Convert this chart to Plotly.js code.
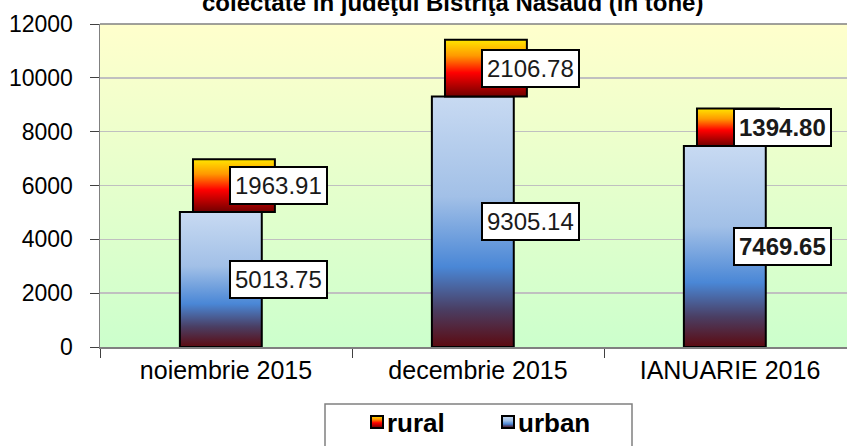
<!DOCTYPE html>
<html>
<head>
<meta charset="utf-8">
<script src="https://cdn.plot.ly/plotly-3.0.1.min.js"></script>
<style>
  html, body { margin: 0; padding: 0; background: #ffffff; }
  #chart { width: 847px; height: 446px; }
</style>
</head>
<body>
<div id="chart"></div>
<script>
const categories = ['noiembrie 2015', 'decembrie 2015', 'IANUARIE 2016'];
const urbanValues = [5013.75, 9305.14, 7469.65];
const ruralValues = [1963.91, 2106.78, 1394.80];
const urbanLabels = ['5013.75', '9305.14', '7469.65'];
const ruralLabels = ['1963.91', '2106.78', '1394.80'];
const boldLabels = [false, false, true];
const titleText = 'colectate în judeţul Bistriţa Năsăud (în tone)';

const fontFamily = 'Arial, "Liberation Sans", sans-serif';

// plot area in pixels (left 100, top 24, bottom 347, right runs off the picture)
const plotLeft = 100;
const plotWidth = 747;
const plotTop = 24;
const plotHeight = 323;

function paperX(px) {
    return (px - plotLeft) / plotWidth;
}

function paperY(py) {
    return (plotTop + plotHeight - py) / plotHeight;
}

const urbanTrace = {
    x: categories,
    y: urbanValues,
    name: 'urban',
    type: 'bar',
    width: 0.325,
    offset: -0.183,
    marker: {
        color: '#9DBDE6',
        line: {color: '#000000', width: 2}
    }
};

const ruralTrace = {
    x: categories,
    y: ruralValues,
    base: urbanValues,
    name: 'rural',
    type: 'bar',
    width: 0.325,
    offset: -0.131,
    marker: {
        color: '#FF3300',
        line: {color: '#000000', width: 2}
    }
};

const annotations = [];
for (let i = 0; i < categories.length; i++) {
    const urbanText = boldLabels[i] ? '<b>' + urbanLabels[i] + '</b>' : urbanLabels[i];
    const ruralText = boldLabels[i] ? '<b>' + ruralLabels[i] + '</b>' : ruralLabels[i];
    annotations.push({
        x: categories[i],
        y: urbanValues[i] / 2,
        xref: 'x', yref: 'y',
        text: urbanText,
        showarrow: false,
        xshift: 52,
        bgcolor: '#ffffff',
        bordercolor: '#000000',
        borderwidth: 2,
        borderpad: 4,
        font: {family: fontFamily, size: 24, color: '#1a1a1a'}
    });
    annotations.push({
        x: categories[i],
        y: urbanValues[i] + ruralValues[i] / 2,
        xref: 'x', yref: 'y',
        text: ruralText,
        showarrow: false,
        xshift: 52,
        bgcolor: '#ffffff',
        bordercolor: '#000000',
        borderwidth: 2,
        borderpad: 4,
        font: {family: fontFamily, size: 24, color: '#1a1a1a'}
    });
}

// second line of the original title, the first line falls off the top of the picture
annotations.push({
    x: paperX(452), y: 1,
    xref: 'paper', yref: 'paper',
    xanchor: 'center', yanchor: 'bottom',
    yshift: 6,
    text: '<b>' + titleText + '</b>',
    showarrow: false,
    font: {family: fontFamily, size: 24, color: '#000000'}
});

const layout = {
    width: 847,
    height: 446,
    margin: {l: plotLeft, r: 0, t: plotTop, b: 446 - plotTop - plotHeight, pad: 0},
    paper_bgcolor: '#ffffff',
    plot_bgcolor: '#E6FFCC',
    barmode: 'overlay',
    font: {family: fontFamily, size: 24, color: '#000000'},
    showlegend: true,
    legend: {
        orientation: 'h',
        traceorder: 'reversed',
        x: paperX(357),
        xanchor: 'left',
        y: paperY(422),
        yanchor: 'middle',
        entrywidth: 86,
        bgcolor: 'rgba(0,0,0,0)',
        borderwidth: 0,
        font: {family: fontFamily, size: 26, color: '#000000', weight: 'bold'}
    },
    xaxis: {
        type: 'category',
        range: [-0.5, -0.5 + plotWidth / 252],
        showgrid: false,
        showline: true,
        linecolor: '#808080',
        linewidth: 1.5,
        ticks: 'outside',
        tickson: 'boundaries',
        ticklen: 9,
        tickcolor: '#404040',
        tickwidth: 1,
        tickfont: {family: fontFamily, size: 25, color: '#000000'},
        zeroline: false
    },
    yaxis: {
        range: [0, 12000],
        dtick: 2000,
        tickformat: 'd',
        showgrid: true,
        gridcolor: '#C0C0C0',
        gridwidth: 1.5,
        showline: true,
        linecolor: '#808080',
        linewidth: 1.5,
        ticks: 'outside',
        ticklen: 9,
        tickcolor: '#404040',
        tickwidth: 1,
        ticklabelstandoff: 12,
        tickfont: {family: fontFamily, size: 23, color: '#000000'},
        zeroline: false
    },
    shapes: [
        {
            type: 'line', xref: 'paper', yref: 'paper',
            x0: 0, x1: 1, y0: 1, y1: 1,
            line: {color: '#808080', width: 1.5}
        },
        {
            type: 'rect', xref: 'paper', yref: 'paper',
            x0: paperX(325), x1: paperX(632), y0: paperY(404), y1: paperY(470),
            fillcolor: '#ffffff',
            line: {color: '#808080', width: 1.5}
        }
    ],
    annotations: annotations
};

const ns = 'http://www.w3.org/2000/svg';

function addGradient(defs, id, stops) {
    const grad = document.createElementNS(ns, 'linearGradient');
    grad.setAttribute('id', id);
    grad.setAttribute('x1', '0');
    grad.setAttribute('y1', '0');
    grad.setAttribute('x2', '0');
    grad.setAttribute('y2', '1');
    for (let stop of stops) {
        const s = document.createElementNS(ns, 'stop');
        s.setAttribute('offset', stop[0]);
        s.setAttribute('stop-color', stop[1]);
        grad.appendChild(s);
    }
    defs.appendChild(grad);
}

const gd = document.getElementById('chart');

Plotly.newPlot(gd, [urbanTrace, ruralTrace], layout, {staticPlot: true}).then(function () {
    const svg = gd.querySelector('svg.main-svg');
    const defs = document.createElementNS(ns, 'defs');
    svg.insertBefore(defs, svg.firstChild);

    addGradient(defs, 'gradUrban', [
        ['0', '#C8DAF2'], ['0.40', '#A2C0E7'], ['0.68', '#4A87D6'], ['0.85', '#4A3E63'], ['1', '#5C0A10']
    ]);
    addGradient(defs, 'gradRural', [
        ['0', '#FFE600'], ['0.28', '#FF9900'], ['0.58', '#FF0000'], ['1', '#700000']
    ]);
    addGradient(defs, 'gradBg', [
        ['0', '#FFFFCC'], ['1', '#CCFFCC']
    ]);

    const barTraces = gd.querySelectorAll('.barlayer .trace');
    const gradIds = ['gradUrban', 'gradRural'];
    barTraces.forEach(function (traceGroup, i) {
        traceGroup.querySelectorAll('path').forEach(function (p) {
            p.style.fill = 'url(#' + gradIds[i] + ')';
        });
    });

    gd.querySelectorAll('.legend .traces').forEach(function (item) {
        const textNode = item.querySelector('.legendtext');
        const id = textNode.textContent === 'urban' ? 'gradUrban' : 'gradRural';
        item.querySelectorAll('.legendpoints path').forEach(function (p) {
            p.style.fill = 'url(#' + id + ')';
        });
        // pull the label closer to its swatch, like the original legend
        textNode.setAttribute('x', parseFloat(textNode.getAttribute('x')) - 10);
    });

    // only the plot area background, not legend or annotation boxes
    gd.querySelectorAll('.cartesianlayer .subplot rect.bg, .bglayer rect.bg').forEach(function (r) {
        r.style.fill = 'url(#gradBg)';
    });
});
</script>
</body>
</html>
